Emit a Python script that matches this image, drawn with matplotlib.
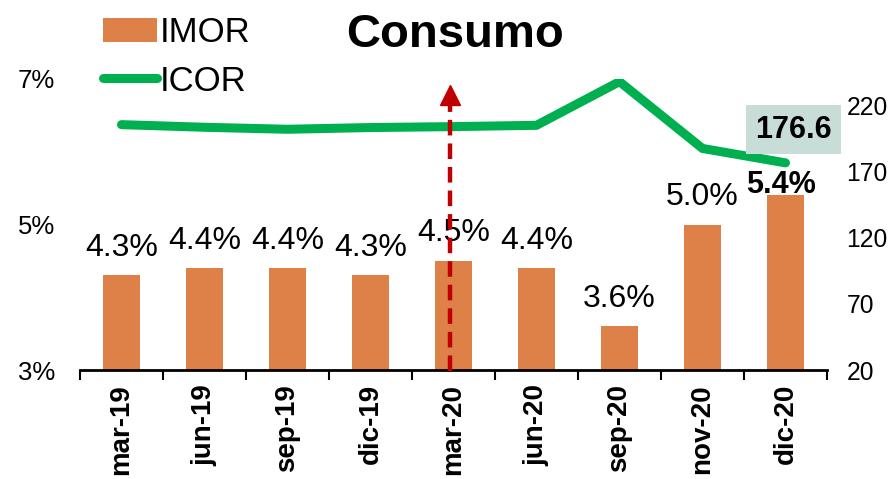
import matplotlib
matplotlib.use("Agg")
import matplotlib.pyplot as plt
import numpy as np

plt.rcParams['font.family'] = ['Liberation Sans', 'DejaVu Sans']

# data
periods = ['mar-19', 'jun-19', 'sep-19', 'dic-19', 'mar-20', 'jun-20', 'sep-20', 'nov-20', 'dic-20']
imor = [4.3, 4.4, 4.4, 4.3, 4.5, 4.4, 3.6, 5.0, 5.4]
icor = [205.5, 203.5, 202.0, 203.3, 204.0, 205.0, 238.0, 187.5, 176.6]
left_ticks = [3, 5, 7]
right_ticks = [20, 70, 120, 170, 220]

bar_color = '#DE8149'
line_color = '#00B050'
arrow_color = '#C00000'

fig = plt.figure(figsize=(8.92, 4.79), dpi=100)
ax = fig.add_axes([80 / 892, 1 - 370 / 479, 747 / 892, 291 / 479])
ax2 = ax.twinx()

x = np.arange(len(periods))
bars = ax.bar(x, imor, width=0.45, color=bar_color, label='IMOR', zorder=2)
ax.set_ylim(3, 7)
ax.set_xlim(-0.5, len(periods) - 0.5)
ax.set_yticks(left_ticks)
ax.set_yticklabels([f'{t}%' for t in left_ticks])
ax.tick_params(axis='y', length=0, labelsize=18.5, pad=18)

# category ticks sit between the bars
ax.set_xticks(np.arange(-0.5, len(periods), 1.0), minor=False)
ax.set_xticklabels([])
ax.set_xticks(x, minor=True)
ax.set_xticklabels(periods, minor=True, rotation=90, fontsize=20, fontweight='bold')
ax.tick_params(axis='x', which='major', length=7, width=1.5, direction='out')
ax.tick_params(axis='x', which='minor', length=0, pad=10)

for s in ['top', 'left', 'right']:
    ax.spines[s].set_visible(False)
    ax2.spines[s].set_visible(False)
ax.spines['bottom'].set_linewidth(2)
ax2.spines['bottom'].set_visible(False)

for i, v in enumerate(imor):
    if i == len(imor) - 1:
        ax.annotate(f'{v:.1f}%', (x[i], v), xytext=(-3, -3), textcoords='offset points',
                    ha='center', va='bottom', fontsize=22, fontweight='bold', zorder=5)
    else:
        ax.annotate(f'{v:.1f}%', (x[i], v), xytext=(0, 9), textcoords='offset points',
                    ha='center', va='bottom', fontsize=23)

ax2.plot(x, icor, color=line_color, lw=6.5, solid_capstyle='round',
         solid_joinstyle='miter', label='ICOR', zorder=3)
ax2.set_ylim(20, 240)
ax2.set_yticks(right_ticks)
ax2.tick_params(axis='y', length=0, labelsize=17.7, pad=14)
ax2.annotate(f'{icor[-1]:.1f}', (x[-1], icor[-1]), xytext=(6, 24), textcoords='offset points',
             ha='center', va='center', fontsize=22, fontweight='bold',
             bbox=dict(boxstyle='square,pad=0.3', fc='#C9DDD8', ec='none'))

# dashed red arrow at mar-20
ax.set_zorder(ax2.get_zorder() + 1)
ax.patch.set_visible(False)
ax.plot([x[4] - 0.04, x[4] - 0.04], [2.98, 6.72], color=arrow_color, lw=3.2,
        dashes=(3.5, 1.8), clip_on=False, zorder=6)
ax.plot([x[4] - 0.04], [6.78], marker='^', ms=15, color=arrow_color, clip_on=False, zorder=6)

fig.text(455 / 892, 1 - 35 / 479, 'Consumo', ha='center', va='center', fontsize=34, fontweight='bold')

h1, l1 = ax.get_legend_handles_labels()
h2, l2 = ax2.get_legend_handles_labels()
fig.legend(h1 + h2, l1 + l2, loc='upper left', bbox_to_anchor=(89 / 892, 1 - 2 / 479),
           frameon=False, fontsize=25, handlelength=1.55, handletextpad=0.1,
           labelspacing=0.45, borderaxespad=0)

fig.savefig('out.png', dpi=100)
